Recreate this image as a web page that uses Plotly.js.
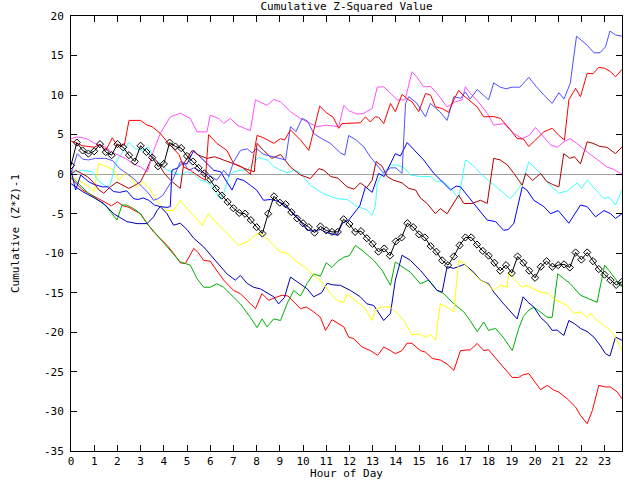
<!DOCTYPE html>
<html>
<head>
<meta charset="utf-8">
<script src="https://cdn.plot.ly/plotly-3.0.1.min.js"></script>
<style>html,body{margin:0;padding:0;background:#fff;}#chart{width:640px;height:480px;}</style>
</head>
<body>
<div id="chart"></div>
<script>
// ---- data (hour of day, cumulative (Z*Z)-1) ----
const blackX = [0,0.25,0.5,0.75,1,1.25,1.5,1.75,2,2.25,2.5,2.75,3,3.25,3.5,3.75,4,4.25,4.5,4.75,5,5.25,5.5,5.75,6,6.25,6.5,6.75,7,7.25,7.5,7.75,8,8.25,8.5,8.75,9,9.25,9.5,9.75,10,10.25,10.5,10.75,11,11.25,11.5,11.75,12,12.25,12.5,12.75,13,13.25,13.5,13.75,14,14.25,14.5,14.75,15,15.25,15.5,15.75,16,16.25,16.5,16.75,17,17.25,17.5,17.75,18,18.25,18.5,18.75,19,19.25,19.5,19.75,20,20.25,20.5,20.75,21,21.25,21.5,21.75,22,22.25,22.5,22.75,23,23.25,23.5,23.75];
const blackY = [1.1,4.0,3.0,2.6,2.9,3.8,2.8,2.4,3.8,3.4,2.4,1.6,3.6,2.8,2.1,1.0,1.3,4.0,3.5,3.3,2.3,1.6,0.8,0.1,-0.7,-1.8,-2.7,-3.5,-4.3,-4.9,-5.0,-5.8,-6.7,-7.5,-5.0,-2.8,-3.6,-3.8,-4.8,-5.6,-6.2,-6.7,-7.4,-6.6,-7.1,-7.3,-7.3,-5.7,-6.3,-7.3,-7.2,-8.1,-8.8,-9.8,-9.4,-10.3,-8.5,-8.0,-6.2,-6.7,-7.6,-8.0,-9.1,-9.8,-10.9,-11.5,-10.4,-9.0,-8.0,-8.0,-8.9,-9.7,-10.3,-11.2,-12.2,-11.5,-12.5,-10.4,-11.2,-12.2,-13.1,-11.7,-11.0,-11.7,-11.5,-11.4,-11.8,-9.9,-10.8,-9.9,-11.0,-12.0,-12.7,-13.4,-14.0,-13.6];

const magentaX = [0,0.25,0.5,0.75,1.0,1.5,1.75,2.35,2.63,3.0,3.3,3.56,3.85,4.28,4.71,5.14,5.43,5.86,6.0,6.37,6.58,6.87,7.16,7.73,7.95,8.45,8.74,9.03,9.46,9.89,10.25,10.61,11.0,11.54,11.76,12.0,12.33,12.62,12.98,13.2,13.48,13.77,14.06,14.4,14.7,14.9,15.2,15.5,15.78,16.21,16.57,16.86,17.0,17.22,17.6,17.94,18.22,18.65,19.09,19.45,19.75,20.02,20.3,20.67,20.96,21.24,21.52,21.8,22.25,22.68,23.11,23.4,23.75];
const magentaY = [4.5,4.7,4.6,4.4,3.9,3.4,2.8,2.0,1.4,0.9,0.3,3.0,5.15,7.25,7.7,7.05,5.35,5.35,7.45,7.05,6.4,7.05,6.2,5.5,9.4,8.7,9.45,9.15,7.9,7.05,6.5,6.0,6.2,6.0,8.7,8.0,7.6,7.7,8.3,11.0,11.05,10.2,9.4,9.4,12.95,12.3,11.05,11.1,10.2,8.5,9.15,9.4,11.05,10.2,9.0,7.7,6.2,6.4,5.15,4.5,4.9,5.9,4.9,3.7,3.4,4.1,4.5,3.9,2.8,1.8,0.9,0.6,0.0];

const lightBlueX = [0,0.13,0.27,0.5,0.75,1.06,1.5,1.8,2.1,2.4,2.7,3.0,3.36,3.56,3.75,3.95,4.14,4.4,4.71,4.85,5.07,5.3,5.55,5.86,6.0,6.29,6.58,6.8,7.0,7.3,7.6,7.8,8.0,8.3,8.6,9.03,9.25,9.46,9.7,9.96,10.2,10.46,10.8,11.18,11.61,11.8,11.97,12.3,12.62,12.9,13.2,13.48,13.77,14.0,14.27,14.42,14.56,14.9,15.28,15.49,15.9,16.21,16.5,16.8,17.0,17.2,17.51,17.75,18.0,18.22,18.5,18.75,19.02,19.35,19.73,20.05,20.38,20.74,21.03,21.25,21.52,21.79,22.0,22.25,22.54,22.8,23.04,23.23,23.47,23.75];
const lightBlueY = [0.0,1.35,2.6,1.9,1.8,2.0,2.0,1.7,0.7,0.1,-0.55,-1.4,-2.45,-3.3,-3.1,-2.7,-1.8,-0.6,1.55,1.5,0.5,0.8,0.4,0.0,-0.2,-0.76,0.5,-0.3,1.5,3.0,3.2,2.7,3.25,2.5,2.3,2.0,1.8,6.0,5.4,7.05,6.7,5.15,4.5,3.9,2.7,2.4,4.9,4.3,3.45,2.2,1.15,0.1,0.8,0.8,0.1,8.95,9.8,9.0,7.25,8.95,7.9,6.8,9.8,9.6,10.4,9.5,10.7,10.0,9.4,11.55,11.0,10.8,11.0,11.0,12.25,11.1,10.0,8.95,10.3,9.5,11.5,17.45,16.9,16.3,15.35,15.35,16.1,18.1,17.6,17.45];

const redTopX = [0,0.25,0.5,0.75,1.0,1.25,1.5,1.78,2.0,2.3,2.5,3.0,3.28,3.5,3.85,4.14,4.42,4.65,4.86,5.14,5.43,5.79,5.93,6.29,6.72,7.01,7.37,7.73,8.02,8.3,8.74,9.03,9.2,9.46,9.9,10.25,10.72,11.0,11.3,11.54,11.68,12.1,12.47,12.69,12.9,13.12,13.26,13.48,13.77,13.98,14.27,14.5,14.7,14.99,15.28,15.5,15.71,16.0,16.28,16.5,16.71,16.9,17.14,17.51,17.79,18.2,18.51,18.8,19.23,19.5,19.73,20.1,20.38,20.74,21.03,21.27,21.46,21.75,21.96,22.25,22.5,22.75,23.0,23.26,23.47,23.75];
const redTopY = [4.2,3.9,3.6,3.5,3.4,3.8,3.0,4.6,3.6,3.7,6.8,6.8,6.2,6.0,5.15,4.1,3.25,2.5,0.9,0.5,-0.1,-0.76,5.0,3.9,3.0,1.35,0.9,0.0,4.9,4.6,3.9,4.5,4.3,5.6,4.3,3.0,8.6,7.8,7.2,5.8,6.4,6.5,6.5,7.25,6.6,7.25,7.2,6.4,8.95,7.9,10.1,9.5,9.15,7.9,10.2,10.0,8.5,8.3,7.8,9.4,10.6,10.0,9.4,8.5,7.25,7.3,7.05,6.1,4.5,4.45,3.5,4.5,5.35,5.8,4.9,4.3,9.4,10.85,9.8,12.75,12.7,13.5,13.4,12.95,12.3,13.25];

const darkRedX = [0,0.2,0.45,0.7,0.95,1.21,1.41,1.7,1.98,2.25,2.49,2.75,2.99,3.25,3.5,3.75,4.0,4.3,4.5,4.71,4.86,5.22,5.5,5.86,6.2,6.5,6.8,7.16,7.5,7.9,8.02,8.3,8.66,9.03,9.46,9.89,10.32,10.68,10.9,11.2,11.5,11.9,12.2,12.47,12.75,12.98,13.15,13.41,13.63,13.9,14.27,14.56,14.85,15.06,15.35,15.71,15.92,16.21,16.71,16.93,17.29,17.65,17.94,18.08,18.22,18.5,18.8,19.09,19.45,19.6,19.9,20.24,20.5,20.75,21.03,21.24,21.5,21.7,21.96,22.25,22.5,22.8,23.1,23.47,23.75];
const darkRedY = [0.0,0.5,0.1,-0.3,-1.0,-2.0,-2.4,-1.6,-1.0,-1.4,-1.8,-1.4,-1.0,0.5,2.2,1.5,0.2,-0.8,-1.3,-1.8,1.35,3.0,2.4,2.0,2.2,1.9,1.6,1.15,0.7,0.3,3.9,3.0,2.0,2.5,0.9,-0.1,-0.55,0.7,0.5,-0.3,-0.5,-1.6,-1.9,-1.1,-1.7,-0.76,1.6,1.0,-0.3,-0.76,-1.1,-1.8,-2.0,-3.0,-3.7,-5.0,-4.35,-5.0,-2.65,-3.7,-3.7,-3.3,-3.7,-0.76,2.0,1.8,1.2,0.1,-1.4,0.1,-0.8,0.1,-0.9,-1.3,-1.6,2.6,2.0,2.2,1.3,4.1,3.9,3.5,3.4,2.6,3.45];

const cyanX = [0,0.49,0.92,1.2,1.55,1.7,1.91,2.2,2.49,2.77,3.06,3.35,3.56,3.85,4.14,4.42,4.71,5.0,5.29,5.58,5.86,6.08,6.44,6.58,6.8,7.0,7.3,7.59,7.87,8.1,8.45,8.74,9.03,9.31,9.68,9.89,10.32,10.9,11.47,11.9,12.33,12.75,12.98,13.12,13.2,13.41,13.77,14.06,14.35,14.63,15.06,15.5,15.78,16.0,16.36,16.71,17.0,17.3,17.65,18.08,18.5,18.94,19.3,19.5,19.73,19.95,20.24,20.6,21.03,21.4,21.82,22.0,22.25,22.5,22.97,23.2,23.47,23.75];
const cyanY = [0.1,0.5,0.3,-0.9,-1.6,-1.3,1.35,2.6,4.0,3.25,3.0,3.45,2.1,1.35,0.5,0.3,-0.1,0.3,0.1,-0.76,-1.0,-1.6,-3.1,-2.45,-0.3,0.3,0.5,0.5,1.5,2.1,1.8,1.0,0.5,0.2,0.5,0.1,-1.4,-2.5,-3.1,-3.2,-4.1,-4.5,-5.2,-4.0,-1.2,0.1,1.15,1.15,0.8,-0.1,-0.3,-0.3,-1.0,-0.8,-1.8,-3.1,1.8,1.2,0.1,-1.0,-2.0,-3.1,-1.8,-0.8,1.55,0.9,0.1,-1.3,-2.4,-2.1,-1.1,-1.8,-0.76,-1.6,-3.1,-2.9,-3.9,-2.0];

const blueX = [0,0.2,0.42,0.6,0.78,1.0,1.35,1.6,1.84,2.1,2.4,2.7,2.9,3.1,3.35,3.6,3.85,4.14,4.28,4.35,4.6,4.78,5.0,5.29,5.55,5.86,6.15,6.45,6.72,6.94,7.16,7.45,7.73,8.0,8.3,8.6,8.9,9.17,9.46,9.75,10.18,10.46,10.75,11.04,11.47,11.7,11.97,12.26,12.45,12.69,12.98,13.26,13.5,13.98,14.2,14.49,14.8,15.2,15.64,15.95,16.36,16.6,16.79,17.36,17.94,18.3,18.65,18.85,19.09,19.45,19.65,19.95,20.38,20.67,21.0,21.46,21.96,22.25,22.61,22.97,23.26,23.47,23.75];
const blueY = [0.5,-2.0,-0.1,-0.6,-1.0,-1.3,-1.6,-1.6,-2.2,-2.3,-2.1,-3.1,-3.2,-3.0,-3.3,-3.9,-4.1,-4.2,-4.1,0.5,0.8,1.35,1.3,3.0,2.2,1.35,0.5,0.3,-1.0,-2.0,-0.55,-0.8,-1.4,-2.0,-3.3,-3.2,-3.4,-3.9,-4.6,-5.4,-7.1,-7.2,-7.0,-7.4,-7.7,-6.2,-5.8,-4.8,-4.0,-1.6,-2.3,0.1,-0.3,2.6,2.3,4.0,3.0,1.8,0.1,-0.8,-2.0,-1.5,-1.6,-3.7,-5.8,-6.0,-7.1,-7.0,-6.2,-1.6,-2.0,-3.3,-4.1,-5.0,-4.6,-6.2,-3.9,-4.1,-5.4,-4.6,-5.0,-5.6,-5.0];

const greenX = [0,0.25,0.5,0.75,1.0,1.25,1.5,1.7,1.98,2.2,2.41,2.7,2.99,3.28,3.64,3.9,4.2,4.45,4.71,4.93,5.14,5.43,5.72,6.0,6.29,6.58,6.87,7.3,7.73,8.02,8.24,8.45,8.74,9.03,9.31,9.6,9.89,10.18,10.46,10.75,11.0,11.25,11.5,11.76,12.0,12.26,12.62,13.05,13.41,13.77,13.98,14.27,14.63,15.06,15.42,15.78,16.07,16.5,16.93,17.2,17.51,17.79,18.0,18.3,18.65,19.02,19.3,19.5,19.73,19.95,20.24,20.53,20.74,20.98,21.24,21.52,21.96,22.32,22.68,22.75,23.0,23.18,23.4,23.75];
const greenY = [-0.3,-1.0,-1.8,-2.4,-2.9,-3.4,-4.0,-4.75,-5.8,-3.9,-3.9,-4.35,-5.0,-6.25,-7.5,-8.3,-9.4,-10.2,-11.1,-11.3,-11.5,-13.2,-14.3,-14.3,-13.85,-14.3,-15.1,-16.4,-18.1,-19.4,-18.3,-19.3,-18.3,-18.5,-16.4,-14.7,-15.4,-13.8,-12.6,-12.9,-11.2,-11.8,-11.0,-10.5,-10.3,-9.0,-9.8,-10.9,-12.15,-14.05,-11.1,-11.7,-12.4,-13.85,-13.4,-14.7,-15.1,-16.4,-17.4,-18.5,-19.9,-18.7,-19.75,-19.5,-20.7,-22.3,-19.5,-18.0,-17.2,-16.8,-17.4,-18.1,-18.1,-12.6,-13.2,-13.85,-15.3,-15.75,-16.2,-15.1,-11.5,-12.15,-13.0,-14.3];

const yellowX = [0,0.25,0.5,0.75,1.0,1.19,1.5,1.84,2.05,2.34,2.6,2.84,3.13,3.42,3.71,4.14,4.42,4.71,5.0,5.29,5.65,5.93,6.22,6.58,6.87,7.23,7.59,7.95,8.24,8.45,8.74,9.03,9.31,9.75,10.18,10.46,10.89,11.18,11.47,11.76,11.9,12.26,12.69,12.98,13.12,13.34,13.77,14.06,14.34,14.7,14.99,15.28,15.49,15.71,15.92,16.21,16.5,16.71,16.96,17.14,17.36,17.65,17.94,18.22,18.51,18.8,18.87,19.09,19.45,19.66,19.95,20.24,20.6,20.81,21.1,21.39,21.67,21.96,22.25,22.39,22.68,22.97,23.26,23.5,23.75];
const yellowY = [-0.2,-0.6,-1.0,-1.5,-2.2,1.35,1.0,0.5,-0.76,0.1,-0.4,-1.6,-1.0,-2.0,-3.5,-4.6,-4.6,-3.3,-4.35,-5.2,-6.45,-5.0,-6.0,-7.1,-7.9,-9.0,-8.55,-7.7,-7.5,-8.15,-9.0,-9.8,-10.0,-11.1,-11.95,-12.8,-13.85,-15.1,-15.95,-16.2,-15.2,-15.95,-17.0,-18.5,-17.2,-16.8,-16.8,-17.6,-18.5,-20.3,-20.2,-20.6,-20.25,-21.0,-16.4,-16.8,-17.4,-10.9,-11.3,-11.95,-12.6,-13.4,-13.85,-14.7,-14.05,-14.3,-12.4,-13.2,-14.3,-14.05,-14.5,-14.9,-15.1,-15.75,-16.2,-16.6,-17.6,-17.4,-18.1,-17.6,-18.5,-19.1,-19.75,-20.8,-22.3];

const darkBlueX = [0,0.5,1.0,1.41,1.84,2.41,2.85,3.28,3.56,3.71,3.85,4.14,4.42,4.71,5.0,5.29,5.72,6.15,6.44,6.72,7.08,7.3,7.59,7.87,8.16,8.74,8.95,9.2,9.46,9.75,10.18,10.46,10.8,11.04,11.3,11.61,12.04,12.47,12.76,13.05,13.48,13.77,13.98,14.27,14.63,15.06,15.42,15.78,16.0,16.21,16.5,16.96,17.36,17.65,18.0,18.22,18.65,19.23,19.49,19.7,19.95,20.24,20.53,20.74,20.95,21.24,21.46,21.7,21.96,22.25,22.54,22.8,23.04,23.23,23.47,23.75];
const darkBlueY = [-1.2,-2.2,-3.0,-3.7,-5.0,-6.0,-6.25,-6.25,-5.4,-4.6,-4.1,-5.0,-6.45,-6.2,-7.0,-8.1,-9.2,-10.7,-11.7,-12.6,-13.4,-12.8,-13.8,-14.3,-14.5,-15.5,-16.4,-15.6,-13.0,-13.6,-14.5,-15.5,-15.0,-13.8,-14.0,-14.05,-14.7,-15.5,-16.4,-16.6,-18.5,-17.6,-13.4,-10.25,-10.9,-12.15,-13.4,-14.7,-14.9,-11.7,-11.9,-11.4,-12.4,-13.4,-13.85,-14.9,-16.4,-18.3,-15.5,-16.2,-16.8,-18.1,-18.9,-19.75,-19.7,-20.4,-18.5,-18.9,-19.5,-19.9,-20.6,-21.6,-22.7,-23.0,-20.6,-21.0];

const redLowX = [0,0.25,0.5,0.75,1.0,1.25,1.5,1.75,2.0,2.25,2.5,2.75,2.99,3.3,3.56,3.85,4.14,4.42,4.71,4.93,5.14,5.29,5.45,5.72,6.0,6.29,6.58,7.01,7.3,7.59,7.95,8.23,8.52,8.8,9.1,9.35,9.6,9.89,10.15,10.46,10.75,10.97,11.25,11.5,11.76,11.97,12.19,12.55,12.9,13.22,13.48,13.77,13.98,14.27,14.49,14.7,15.06,15.28,15.57,15.92,16.21,16.5,16.79,17.22,17.51,17.79,18.0,18.37,18.65,19.02,19.3,19.45,19.73,19.95,20.24,20.53,20.81,21.03,21.39,21.75,21.96,22.25,22.47,22.75,23.04,23.25,23.55,23.75];
const redLowY = [-0.5,-1.2,-2.0,-2.4,-2.8,-3.3,-3.6,-4.0,-3.5,-4.0,-4.2,-4.6,-5.0,-6.3,-7.3,-8.15,-9.0,-10.0,-11.2,-11.3,-10.25,-9.4,-9.8,-10.9,-11.0,-12.15,-13.4,-14.7,-15.1,-15.95,-17.0,-15.1,-15.95,-15.6,-15.3,-15.4,-16.2,-17.0,-16.8,-17.4,-18.1,-19.75,-18.4,-18.8,-19.3,-20.6,-20.8,-21.85,-22.3,-22.9,-21.85,-22.3,-22.7,-22.3,-21.35,-21.4,-22.3,-22.5,-23.3,-23.5,-24.0,-24.8,-22.3,-22.2,-21.4,-22.3,-22.2,-23.5,-24.4,-25.7,-25.7,-25.4,-25.2,-26.1,-27.25,-26.7,-27.3,-27.55,-28.4,-29.45,-30.5,-31.55,-29.9,-26.7,-26.9,-26.9,-27.55,-28.4];

const xTickVals = [0,1,2,3,4,5,6,7,8,9,10,11,12,13,14,15,16,17,18,19,20,21,22,23];
const yTickVals = [-35,-30,-25,-20,-15,-10,-5,0,5,10,15,20];

// ---- chart ----
const FONT = 'DejaVu Sans Mono, monospace';
const FS = 11;
function lineTrace(x, y, color) {
  return {x: x, y: y, type: 'scatter', mode: 'lines', line: {color: color, width: 1}, hoverinfo: 'skip', showlegend: false};
}
const traces = [
  lineTrace(redLowX, redLowY, '#ff0000'),
  lineTrace(greenX, greenY, '#00b000'),
  lineTrace(darkBlueX, darkBlueY, '#0000b0'),
  lineTrace(yellowX, yellowY, '#ffff00'),
  lineTrace(cyanX, cyanY, '#40ffff'),
  lineTrace(blueX, blueY, '#0000ff'),
  lineTrace(darkRedX, darkRedY, '#b00000'),
  lineTrace(magentaX, magentaY, '#ff50ff'),
  lineTrace(lightBlueX, lightBlueY, '#5050ff'),
  lineTrace(redTopX, redTopY, '#ff0000'),
  {x: blackX, y: blackY, type: 'scatter', mode: 'lines+markers', line: {color: '#000000', width: 1},
   marker: {symbol: 'diamond-open', size: 5.5, color: '#000000', line: {width: 1, color: '#000000'}}, hoverinfo: 'skip', showlegend: false}
];

const axisCommon = {
  showgrid: false, ticks: 'inside', ticklen: 6, tickwidth: 1, tickcolor: '#000',
  showline: true, linecolor: '#000', linewidth: 1, mirror: 'ticks',
  tickfont: {family: FONT, size: FS, color: '#000'}, automargin: false
};
const layout = {
  width: 640, height: 480,
  margin: {l: 71, r: 18, t: 16, b: 29, pad: 0},
  paper_bgcolor: '#ffffff', plot_bgcolor: '#ffffff',
  font: {family: FONT, size: FS, color: '#000'},
  title: {text: 'Cumulative Z-Squared Value', font: {family: FONT, size: FS, color: '#000'},
          xref: 'paper', x: 0.5, xanchor: 'center', yref: 'container', y: 0.988, yanchor: 'middle'},
  xaxis: Object.assign({}, axisCommon, {
    range: [0, 23.75], tickmode: 'array', tickvals: xTickVals, ticktext: xTickVals.map(String),
    zeroline: false, ticklabelstandoff: 0,
    title: {text: 'Hour of Day', font: {family: FONT, size: FS, color: '#000'}, standoff: 8}
  }),
  yaxis: Object.assign({}, axisCommon, {
    range: [-35, 20], tickmode: 'array', tickvals: yTickVals, ticktext: yTickVals.map(String),
    zeroline: true, zerolinecolor: '#a0a0a0', zerolinewidth: 1, ticklabelstandoff: 4,
    title: {text: 'Cumulative (Z*Z)-1', font: {family: FONT, size: FS, color: '#000'}, standoff: 22}
  })
};
Plotly.newPlot('chart', traces, layout, {staticPlot: true, displayModeBar: false});
</script>
</body>
</html>
